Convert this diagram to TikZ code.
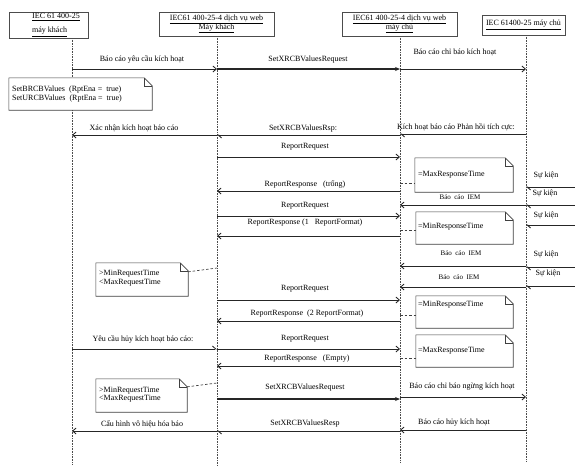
\documentclass[tikz,border=0pt]{standalone}
\usepackage{fontspec}
\setmainfont{Liberation Serif}
\usetikzlibrary{arrows.meta}
\newcommand{\mynote}[5]{%
  \node[minimum width=#4pt, minimum height=#5pt, inner sep=0pt] (#1) at (#2,#3) {};
  \draw[notebox, fill=white] (#1.north west) -- ([xshift=-8pt]#1.north east) -- ([yshift=-8pt]#1.north east) -- (#1.south east) -- (#1.south west) -- cycle;
  \draw[notebox] ([xshift=-8pt]#1.north east) -- ([xshift=-8pt,yshift=-8pt]#1.north east) -- ([yshift=-8pt]#1.north east);}
\begin{document}
\begin{tikzpicture}[x=1pt,y=-1pt,
  every node/.style={font=\fontsize{8}{9}\selectfont, inner sep=0pt, text=black},
  small/.style={font=\fontsize{7}{8}\selectfont},
  headbox/.style={draw=black!70, line width=0.6pt, fill=white},
  life/.style={densely dotted, line width=0.6pt, black!70},
  msg/.style={line width=0.85pt, black!85, -{Straight Barb[length=3.5pt,width=6pt]}},
  half/.style={line width=0.85pt, black!85, -{Straight Barb[left,length=3.5pt,width=6pt]}},
  sync/.style={line width=1.1pt, black!85, -{Stealth[length=5pt,width=4pt]}},
  notebox/.style={draw=black!75, line width=0.6pt},
  notelink/.style={dash pattern=on 2.5pt off 2pt, line width=0.7pt, black!75},
]
\useasboundingbox[fill=white] (0,0) rectangle (575,467);

% lifelines
\coordinate (l1) at (72,38);  \coordinate (e1) at (72,465);
\coordinate (l2) at (217,36); \coordinate (e2) at (217,465);
\coordinate (l3) at (400,36); \coordinate (e3) at (400,462);
\coordinate (l4) at (526,35); \coordinate (e4) at (526,462);
\coordinate (rx) at (575,0);
\draw[life] (l1) -- (e1);
\draw[life] (l2) -- (e2);
\draw[life] (l3) -- (e3);
\draw[life] (l4) -- (e4);

% heads
\node[headbox, minimum width=79pt, minimum height=26pt] (h1) at (49,25) {};
\node[anchor=west] (h1a) at (32,17) {\underline{IEC 61 400-25}};
\node[anchor=west] (h1b) at (32,32) {\underline{máy khách}};
\node[headbox, minimum width=115pt, minimum height=24pt, align=center] (h2) at (216.5,24)
  {\underline{IEC61 400-25-4 dịch vụ web}\\\underline{Máy khách}};
\node[headbox, minimum width=115pt, minimum height=24pt, align=center] (h3) at (399.5,24)
  {\underline{IEC61 400-25-4 dịch vụ web}\\\underline{máy chủ}};
\node[headbox, minimum width=83pt, minimum height=20pt] (h4) at (523.5,25)
  {\underline{IEC 61400-25 máy chủ}};

% notes
\mynote{n1}{80.5}{94}{143}{32}
\node[anchor=west] (n1a) at (12,90) {SetBRCBValues\ \ (RptEna =\ \ true)};
\node[anchor=west] (n1b) at (12,99) {SetURCBValues\ \ (RptEna =\ \ true)};

\mynote{r1}{464}{175}{98}{34}
\node[anchor=west] (r1t) at (418,175) {=MaxResponseTime};
\mynote{r2}{464.5}{228}{97}{32}
\node[anchor=west] (r2t) at (418,227) {=MinResponseTime};
\mynote{r3}{464.5}{312}{97}{32}
\node[anchor=west] (r3t) at (418,305) {=MinResponseTime};
\mynote{r4}{464.5}{351}{97}{32}
\node[anchor=west] (r4t) at (418,351) {=MaxResponseTime};

\mynote{q1}{142}{279.5}{92}{33}
\node[anchor=west] (q1a) at (99,274) {>MinRequestTime};
\node[anchor=west] (q1b) at (99,283) {<MaxRequestTime};
\mynote{q2}{141.5}{395.5}{91}{33}
\node[anchor=west] (q2a) at (99,391) {>MinRequestTime};
\node[anchor=west] (q2b) at (99,399) {<MaxRequestTime};

\draw[notelink] (l3 |- 0,183) -- (r1.west |- 0,183);
\draw[notelink] (l3 |- 0,230) -- (r2.west |- 0,230);
\draw[notelink] (l3 |- 0,315) -- (r3.west |- 0,315);
\draw[notelink] (l3 |- 0,358) -- (r4.west |- 0,358);
\draw[notelink] ([yshift=-9pt]q1.north east) -- (l2 |- 0,268);
\draw[notelink] ([yshift=-8pt]q2.north east) -- (l2 |- 0,383);

% messages
\draw[msg]  (l1 |- 0,69) -- (l2 |- 0,69);
\node (m1) at (142,59) {Báo cáo yêu cầu kích hoạt};
\draw[sync] (l2 |- 0,69) -- (l3 |- 0,69);
\node (m2) at (308,60) {SetXRCBValuesRequest};
\draw[msg]  (l3 |- 0,69) -- (l4 |- 0,69);
\node (m3) at (455,52) {Báo cáo chỉ báo kích hoạt};

\draw[half] (l4 |- 0,134) -- (l3 |- 0,134);
\node (m4) at (456,127) {Kích hoạt báo cáo Phản hồi tích cực:};
\draw[half] (l3 |- 0,135) -- (l2 |- 0,135);
\node (m5) at (303,129) {SetXRCBValuesRsp:};
\draw[msg]  (l2 |- 0,135) -- (l1 |- 0,135);
\node (m6) at (134,128) {Xác nhận kích hoạt báo cáo};

\draw[msg] (l2 |- 0,157) -- (l3 |- 0,157);
\node (m7) at (305,147) {ReportRequest};
\draw[msg] (l3 |- 0,191) -- (l2 |- 0,191);
\node (m8) at (305,184) {ReportResponse\ \ \ (trống)};
\draw[msg] (l2 |- 0,216) -- (l3 |- 0,216);
\node (m9) at (305,206) {ReportRequest};
\draw[msg] (l3 |- 0,236) -- (l2 |- 0,236);
\node (m10) at (305,223) {ReportResponse (1\ \ \ ReportFormat)};
\draw[msg] (l2 |- 0,300) -- (l3 |- 0,300);
\node (m11) at (305,289) {ReportRequest};
\draw[msg] (l3 |- 0,321) -- (l2 |- 0,321);
\node (m12) at (307,314) {ReportResponse\ \ (2 ReportFormat)};

\draw[half] (l1 |- 0,349) -- (l2 |- 0,349);
\node (m13) at (143,339) {Yêu cầu hủy kích hoạt báo cáo:};
\draw[msg] (l2 |- 0,349) -- (l3 |- 0,349);
\node (m14) at (305,339) {ReportRequest};
\draw[msg] (l3 |- 0,366) -- (l2 |- 0,366);
\node (m15) at (307,359) {ReportResponse\ \ \ (Empty)};

\draw[sync] (l2 |- 0,399) -- (l3 |- 0,399);
\node (m16) at (305,388) {SetXRCBValuesRequest};
\draw[msg] (l3 |- 0,397) -- (l4 |- 0,397);
\node (m17) at (462,387) {Báo cáo chỉ báo ngừng kích hoạt};

\draw[msg] (l2 |- 0,431) -- (l1 |- 0,431);
\node (m18) at (142,424) {Cấu hình vô hiệu hóa báo};
\draw[half] (l3 |- 0,431) -- (l2 |- 0,431);
\node (m19) at (305,424) {SetXRCBValuesResp};
\draw[msg] (l4 |- 0,430) -- (l3 |- 0,430);
\node (m20) at (454,423) {Báo cáo hủy kích hoạt};

% IEM reports
\draw[msg] (l4 |- 0,205) -- (l3 |- 0,205);
\node[small] (i1) at (460,197) {Báo\ \ cáo\ \ IEM};
\draw[msg] (l4 |- 0,266) -- (l3 |- 0,266);
\node[small] (i2) at (461,253) {Báo\ \ cáo\ \ IEM};
\draw[msg] (l4 |- 0,287) -- (l3 |- 0,287);
\node[small] (i3) at (459,277) {Báo\ \ cáo\ \ IEM};

% events
\draw[half] (rx |- 0,187) -- (l4 |- 0,187);
\node (s1) at (546,175) {Sự kiện};
\draw[half] (rx |- 0,205) -- (l4 |- 0,205);
\node (s2) at (545,193) {Sự kiện};
\draw[half] (rx |- 0,225) -- (l4 |- 0,225);
\node (s3) at (546,215) {Sự kiện};
\draw[half] (rx |- 0,267) -- (l4 |- 0,267);
\node (s4) at (546,254) {Sự kiện};
\draw[half] (rx |- 0,286) -- (l4 |- 0,286);
\node (s5) at (548,273) {Sự kiện};
\end{tikzpicture}
\end{document}
